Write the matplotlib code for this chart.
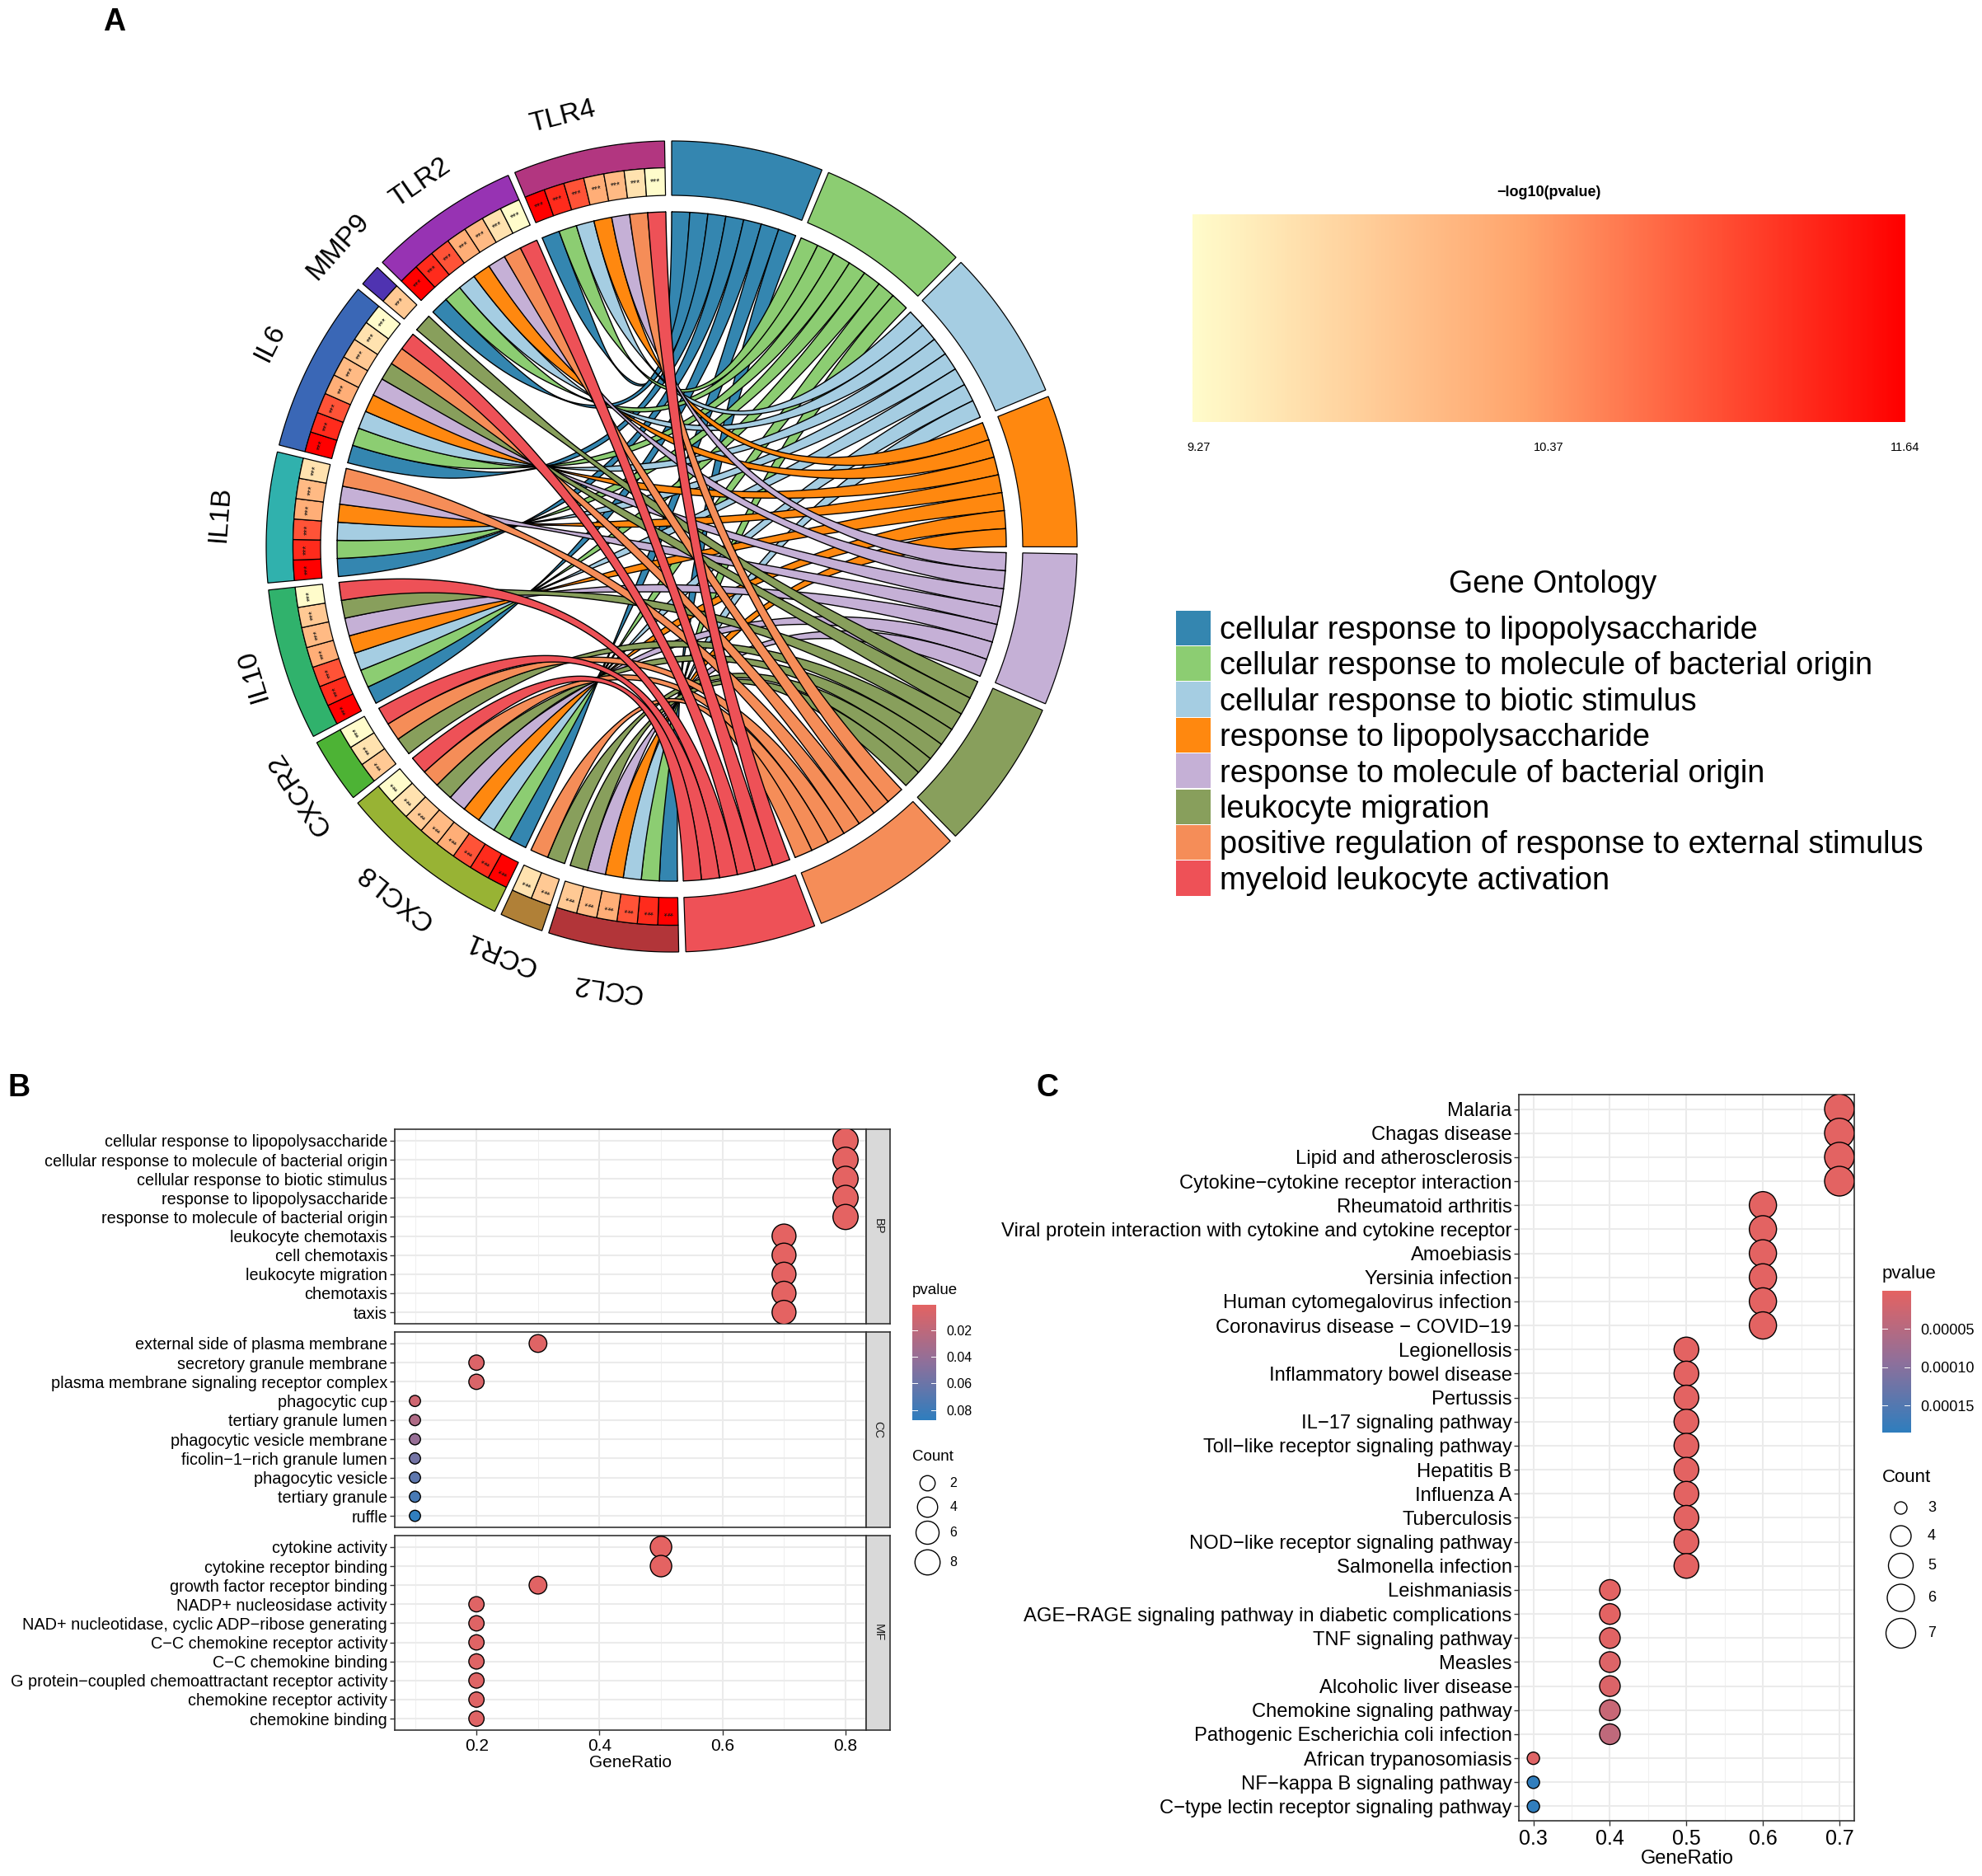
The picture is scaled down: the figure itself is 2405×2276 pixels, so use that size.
import numpy as np
import matplotlib
matplotlib.use('Agg')
import matplotlib.pyplot as plt
from matplotlib.colors import LinearSegmentedColormap, Normalize
from matplotlib.patches import Polygon, Rectangle

plt.rcParams['font.family'] = ['Liberation Sans', 'DejaVu Sans']

W, H = 2405, 2276

# ---- chord data ----
terms = ['cellular response to lipopolysaccharide',
         'cellular response to molecule of bacterial origin',
         'cellular response to biotic stimulus',
         'response to lipopolysaccharide',
         'response to molecule of bacterial origin',
         'leukocyte migration',
         'positive regulation of response to external stimulus',
         'myeloid leukocyte activation']
term_colors = ['#3486B0', '#8CCD72', '#A5CDE2', '#FF880F', '#C5B0D6', '#889F5C', '#F58D58', '#EE5157']
term_logp = [11.64, 11.3, 11.0, 10.25, 10.1, 9.9, 9.6, 9.27]

# clockwise from the bottom of the circle
genes = ['CCL2', 'CCR1', 'CXCL8', 'CXCR2', 'IL10', 'IL1B', 'IL6', 'MMP9', 'TLR2', 'TLR4']
gene_colors = ['#B23539', '#B08037', '#98B334', '#4DB335', '#30B26C', '#30B1AD', '#3A67B6', '#4F33B1', '#9733B3', '#B23680']
# indexes into terms
gene_terms = [[0, 1, 2, 3, 4, 5],
              [5, 6],
              [0, 1, 2, 3, 4, 5, 6, 7],
              [5, 6, 7],
              [0, 1, 2, 3, 4, 5, 7],
              [0, 1, 2, 3, 4, 6],
              [0, 1, 2, 3, 4, 5, 6, 7],
              [5],
              [0, 1, 2, 3, 4, 6, 7],
              [0, 1, 2, 3, 4, 6, 7]]

# ---- dot plot data ----
b_terms = ['cellular response to lipopolysaccharide', 'cellular response to molecule of bacterial origin',
           'cellular response to biotic stimulus', 'response to lipopolysaccharide',
           'response to molecule of bacterial origin', 'leukocyte chemotaxis', 'cell chemotaxis',
           'leukocyte migration', 'chemotaxis', 'taxis']
b_ratio = [0.8, 0.8, 0.8, 0.8, 0.8, 0.7, 0.7, 0.7, 0.7, 0.7]
b_p = [0.0005] * 10
c_terms = ['external side of plasma membrane', 'secretory granule membrane',
           'plasma membrane signaling receptor complex', 'phagocytic cup', 'tertiary granule lumen',
           'phagocytic vesicle membrane', 'ficolin\u22121\u2212rich granule lumen', 'phagocytic vesicle',
           'tertiary granule', 'ruffle']
c_ratio = [0.3, 0.2, 0.2, 0.1, 0.1, 0.1, 0.1, 0.1, 0.1, 0.1]
c_p = [0.003, 0.005, 0.006, 0.012, 0.028, 0.04, 0.056, 0.066, 0.076, 0.087]
m_terms = ['cytokine activity', 'cytokine receptor binding', 'growth factor receptor binding',
           'NADP+ nucleosidase activity', 'NAD+ nucleotidase, cyclic ADP\u2212ribose generating',
           'C\u2212C chemokine receptor activity', 'C\u2212C chemokine binding',
           'G protein\u2212coupled chemoattractant receptor activity', 'chemokine receptor activity',
           'chemokine binding']
m_ratio = [0.5, 0.5, 0.3, 0.2, 0.2, 0.2, 0.2, 0.2, 0.2, 0.2]
m_p = [0.0005, 0.0005, 0.002, 0.003, 0.003, 0.003, 0.003, 0.003, 0.003, 0.003]

kegg_terms = ['Malaria', 'Chagas disease', 'Lipid and atherosclerosis',
              'Cytokine\u2212cytokine receptor interaction', 'Rheumatoid arthritis',
              'Viral protein interaction with cytokine and cytokine receptor', 'Amoebiasis',
              'Yersinia infection', 'Human cytomegalovirus infection',
              'Coronavirus disease \u2212 COVID\u221219', 'Legionellosis', 'Inflammatory bowel disease',
              'Pertussis', 'IL\u221217 signaling pathway', 'Toll\u2212like receptor signaling pathway',
              'Hepatitis B', 'Influenza A', 'Tuberculosis', 'NOD\u2212like receptor signaling pathway',
              'Salmonella infection', 'Leishmaniasis',
              'AGE\u2212RAGE signaling pathway in diabetic complications', 'TNF signaling pathway',
              'Measles', 'Alcoholic liver disease', 'Chemokine signaling pathway',
              'Pathogenic Escherichia coli infection', 'African trypanosomiasis',
              'NF\u2212kappa B signaling pathway', 'C\u2212type lectin receptor signaling pathway']
kegg_ratio = [0.7] * 4 + [0.6] * 6 + [0.5] * 10 + [0.4] * 7 + [0.3] * 3
kegg_p = [1e-6] * 20 + [2e-6, 2e-6, 3e-6, 8e-6, 1e-5, 3.2e-5, 4e-5, 6e-6, 0.000183, 0.000183]

b_sizes = {1: 13.5, 2: 18.5, 3: 21.5, 4: 24.5, 5: 26, 6: 28, 7: 29, 8: 30.5}
kegg_sizes = {3: 15, 4: 25, 5: 30, 6: 33, 7: 36}

# ---- style ----
RED_BLUE = LinearSegmentedColormap.from_list('rb', ['#E46362', '#8F709B', '#2F7EBE'])
HEAT = LinearSegmentedColormap.from_list('heat', [(0, '#FFFCCB'), (0.464, '#FFA46C'), (1, '#FF0000')])
heat_norm = Normalize(9.27, 11.64)
UNIT = (360 - 18) / 110.0
R_OUT, R_MID, R_IN, R_LINK = 492, 459.5, 426, 406
# how far each term's ribbons stay open where they squeeze together near the gene side
pinch_open = [0.08, 0.08, 0.08, 0.12, 0.25, 0.4, 0.55, 0.9]
belly_open = [0.68, 0.68, 0.68, 0.68, 0.72, 0.75, 0.8, 0.95]
# gene label placement: radius and small angle nudge
label_r = [541, 535, 541, 541, 532, 550, 546, 544, 536, 538]
label_nudge = [0, -1, 0, 0, 0, 0, 0, 0, 0, 2.4]


def px_axes(x0, y0, x1, y1, **kw):
    return fig.add_axes([x0 / W, 1 - y1 / H, (x1 - x0) / W, (y1 - y0) / H], **kw)


def polar(a, r):
    a = np.radians(a)
    return np.array([r * np.cos(a), r * np.sin(a)])


def sector(a0, a1, r0, r1):
    t = np.linspace(a0, a1, 40)
    rad = np.radians(t)
    outer = np.c_[r1 * np.cos(rad), r1 * np.sin(rad)]
    inner = np.c_[r0 * np.cos(rad), r0 * np.sin(rad)][::-1]
    return np.vstack([outer, inner])


def ribbon(g0, g1, t0, t1, ti):
    # quadratic bezier edges with the control point in the middle of the circle
    s = np.linspace(0, 1, 90)[:, None]
    e1 = (1 - s)**2 * polar(g0, R_LINK) + s**2 * polar(t1, R_LINK)
    e2 = (1 - s)**2 * polar(g1, R_LINK) + s**2 * polar(t0, R_LINK)
    centre = (e1 + e2) / 2
    squeeze = 1 - (1 - pinch_open[ti]) * np.exp(-((s - 0.31) / 0.11)**2)
    squeeze = squeeze * (1 - (1 - belly_open[ti]) * np.exp(-((s - 0.62) / 0.16)**2))
    e1 = centre + squeeze * (e1 - centre)
    e2 = centre + squeeze * (e2 - centre)
    arc_t = sector(t1, t0, R_LINK, R_LINK)[:40]
    arc_g = sector(g0, g1, R_LINK, R_LINK)[:40]
    return np.vstack([e1, arc_t, e2[::-1], arc_g[::-1]])


fig = plt.figure(figsize=(W / 100, H / 100), dpi=100, facecolor='white')

# ---- panel A ----
cx, cy, half_size = 815, 663, 650
ax = px_axes(cx - half_size, cy - half_size, cx + half_size, cy + half_size)
ax.set_xlim(-half_size, half_size)
ax.set_ylim(-half_size, half_size)
ax.axis('off')

# angles run clockwise, so they decrease
term_start, term_end = [], []
gene_start, gene_end, gene_mid = [], [], []
term_genes = [[g for g in range(len(genes) - 1, -1, -1) if t in gene_terms[g]] for t in range(len(terms))]
a = 90.0
for t in range(len(terms)):
    term_start.append(a)
    a -= UNIT * len(term_genes[t])
    term_end.append(a)
    a -= 1
for g in range(len(genes)):
    gene_start.append(a)
    a -= UNIT * len(gene_terms[g])
    gene_end.append(a)
    gene_mid.append((gene_start[g] + gene_end[g]) / 2)
    a -= 1

lw_sector = 0.9
for t in range(len(terms)):
    ax.add_patch(Polygon(sector(term_start[t], term_end[t], R_IN, R_OUT), closed=True,
                         facecolor=term_colors[t], edgecolor='black', lw=lw_sector))
for g in range(len(genes)):
    ax.add_patch(Polygon(sector(gene_start[g], gene_end[g], R_MID, R_OUT), closed=True,
                         facecolor=gene_colors[g], edgecolor='black', lw=lw_sector))
    for k, t in enumerate(gene_terms[g]):
        a0 = gene_start[g] - k * UNIT
        a1 = a0 - UNIT
        ax.add_patch(Polygon(sector(a0, a1, R_IN, R_MID), closed=True,
                             facecolor=HEAT(heat_norm(term_logp[t])), edgecolor='black', lw=lw_sector))
        am = (a0 + a1) / 2
        xy = polar(am, (R_IN + R_MID) / 2)
        ax.text(xy[0], xy[1], '***', fontsize=7.5, rotation=(am - 90) % 360,
                rotation_mode='anchor', ha='center', va='center', color='#111111')
    label_a = gene_mid[g] + label_nudge[g]
    xy = polar(label_a, label_r[g])
    ax.text(xy[0], xy[1], genes[g], fontsize=24, rotation=(label_a - 90) % 360,
            rotation_mode='anchor', ha='center', va='center')

for t in range(len(terms)):
    for k, g in enumerate(term_genes[t]):
        b0 = term_start[t] - k * UNIT
        b1 = b0 - UNIT
        idx = gene_terms[g].index(t)
        g0 = gene_start[g] - idx * UNIT
        g1 = g0 - UNIT
        ax.add_patch(Polygon(ribbon(g0, g1, b0, b1, t), closed=True, facecolor=term_colors[t],
                             edgecolor='black', lw=1.0, joinstyle='round'))

# heat legend
fig.text(1879.5 / W, 1 - 234 / H, '\u2212log10(pvalue)', fontsize=13, fontweight='bold', ha='center', va='center')
ax_h = px_axes(1447, 260, 2311.5, 512)
ax_h.imshow(np.linspace(0, 1, 400)[None, :], cmap=HEAT, aspect='auto', extent=(0, 1, 0, 1))
ax_h.axis('off')
heat_ticks = ['9.27', '10.37', '11.64']
for x, s in zip([1455, 1879.5, 2311.5], heat_ticks):
    fig.text(x / W, 1 - 543 / H, s, fontsize=10.5, ha='center', va='center')

# term legend
fig.text(1884 / W, 1 - 709 / H, 'Gene Ontology', fontsize=27, ha='center', va='center')
ax_l = px_axes(0, 0, W, H)
ax_l.set_xlim(0, W)
ax_l.set_ylim(H, 0)
ax_l.axis('off')
ax_l.patch.set_alpha(0)
for i, (s, c) in enumerate(zip(terms, term_colors)):
    y0 = 740 + i * 43.4
    ax_l.add_patch(Rectangle((1427, y0 + 0.6), 42, 42.2, facecolor=c, edgecolor='none'))
    ax_l.text(1480, y0 + 25, s, fontsize=27.4, va='center', ha='left')


# ---- panels B and C ----
def dot_panel(box, labels, ratios, pvals, sizes, counts, xlim, xticks, xminor, norm, label_fs, tick_fs, show_x):
    a_ = px_axes(*box)
    n = len(labels)
    ys = np.arange(n, 0, -1)
    a_.set_xlim(*xlim)
    a_.set_ylim(0.4, n + 0.6)
    for x in xminor:
        a_.axvline(x, color='#F0F0F0', lw=0.8, zorder=0)
    for x in xticks:
        a_.axvline(x, color='#EBEBEB', lw=1.5, zorder=0)
    for y in ys:
        a_.axhline(y, color='#EBEBEB', lw=1.5, zorder=0)
    diam = np.array([sizes[c] for c in counts]) * 0.72
    a_.scatter(ratios, ys, s=diam**2, c=RED_BLUE(norm(pvals)), edgecolors='black', linewidths=1.0, zorder=3)
    a_.set_yticks(ys)
    a_.set_yticklabels(labels, fontsize=label_fs)
    a_.set_xticks(xticks)
    a_.set_xticklabels([f'{x:.1f}' for x in xticks], fontsize=tick_fs)
    a_.tick_params(axis='y', length=4, width=1, color='#333333', pad=2)
    a_.tick_params(axis='x', length=4 if show_x else 0, width=1, color='#333333', pad=3, labelbottom=show_x)
    for sp in a_.spines.values():
        sp.set_color('#333333')
        sp.set_linewidth(1.2)
    return a_


def color_legend(x0, y0, x1, y1, vmin, vmax, ticks, labels, fs):
    c = px_axes(x0, y0, x1, y1)
    c.imshow(np.linspace(0, 1, 200)[:, None], cmap=RED_BLUE, aspect='auto', extent=(0, 1, vmax, vmin))
    c.set_xticks([])
    c.set_yticks(ticks)
    c.set_yticklabels(labels, fontsize=fs)
    c.yaxis.tick_right()
    c.tick_params(axis='y', length=0, pad=9)
    for sp in c.spines.values():
        sp.set_visible(False)
    for v in ticks:
        c.plot([0, 0.2], [v, v], color='white', lw=0.7)
        c.plot([0.8, 1], [v, v], color='white', lw=0.7)
    c.set_xlim(0, 1)
    c.set_ylim(vmax, vmin)


def count_legend(x, ys, counts, sizes, lx, fs):
    for y, n in zip(ys, counts):
        ax_l.scatter([x], [y], s=(sizes[n] * 0.72)**2, facecolor='white', edgecolor='black', linewidth=1.0)
        ax_l.text(lx, y, str(n), fontsize=fs, ha='center', va='center')


b_norm = Normalize(0.0005, 0.0875)
xt_b = [0.2, 0.4, 0.6, 0.8]
xm_b = [0.1, 0.3, 0.5, 0.7]
lim_b = (0.0665, 0.8335)
fs_b = 14.3
groups = [((478.5, 1370, 1051, 1606), b_terms, b_ratio, b_p, 'BP', False),
          ((478.5, 1616, 1051, 1853), c_terms, c_ratio, c_p, 'CC', False),
          ((478.5, 1863, 1051, 2099), m_terms, m_ratio, m_p, 'MF', True)]
for box, labs, rat, pv, strip, show in groups:
    cnt = [int(round(r * 10)) for r in rat]
    dot_panel(box, labs, rat, pv, b_sizes, cnt, lim_b, xt_b, xm_b, b_norm, fs_b, 15, show)
    st = px_axes(1051, box[1], 1080, box[3], facecolor='#D9D9D9')
    st.set_xticks([])
    st.set_yticks([])
    for sp in st.spines.values():
        sp.set_color('#333333')
        sp.set_linewidth(1.2)
    st.text(0.5, 0.5, strip, rotation=-90, transform=st.transAxes, ha='center', va='center',
            fontsize=10.5, color='#1A1A1A')
fig.text(765 / W, 1 - 2138 / H, 'GeneRatio', fontsize=15, ha='center', va='center')
fig.text(1107 / W, 1 - 1565 / H, 'pvalue', fontsize=13.5, ha='left', va='center')
fig.text(1107 / W, 1 - 1768 / H, 'Count', fontsize=13.5, ha='left', va='center')
color_legend(1107, 1582.5, 1135.6, 1722.7, 0.0005, 0.0875, [0.02, 0.04, 0.06, 0.08],
             ['0.02', '0.04', '0.06', '0.08'], 11.5)
count_legend(1125, [1799, 1828, 1859, 1895], [2, 4, 6, 8], b_sizes, 1157, 11.5)

k_norm = Normalize(0, 0.000185)
k_counts = [int(round(r * 10)) for r in kegg_ratio]
dot_panel((1843, 1328, 2250, 2209), kegg_terms, kegg_ratio, kegg_p, kegg_sizes, k_counts, (0.281, 0.7194),
          [0.3, 0.4, 0.5, 0.6, 0.7], [0.35, 0.45, 0.55, 0.65], k_norm, 17.15, 18, True)
fig.text(2047 / W, 1 - 2255 / H, 'GeneRatio', fontsize=17, ha='center', va='center')
fig.text(2283.5 / W, 1 - 1546 / H, 'pvalue', fontsize=16, ha='left', va='center')
fig.text(2283.5 / W, 1 - 1792 / H, 'Count', fontsize=16, ha='left', va='center')
color_legend(2283.5, 1566, 2318, 1737.6, 0, 0.000185, [0.00005, 0.0001, 0.00015],
             ['0.00005', '0.00010', '0.00015'], 13)
count_legend(2305.5, [1829, 1863, 1899, 1938, 1981], [3, 4, 5, 6, 7], kegg_sizes, 2344, 13)

# panel letters
for s, x, y in [('A', 139, 27), ('B', 23, 1320), ('C', 1271, 1320)]:
    fig.text(x / W, 1 - y / H, s, fontsize=27, fontweight='bold', ha='center', va='center')

fig.savefig('out.png', dpi=100)
